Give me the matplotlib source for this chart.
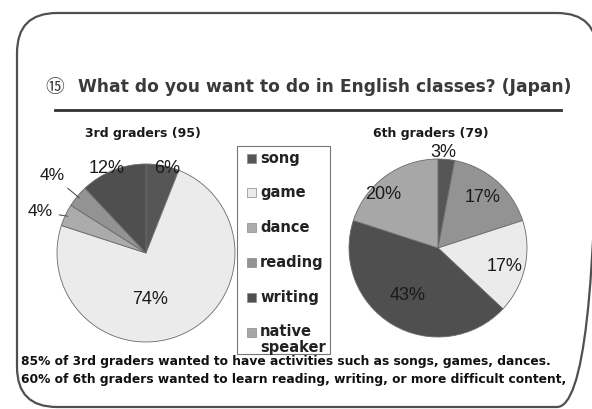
import numpy as np
import matplotlib
matplotlib.use("Agg")
import matplotlib.pyplot as plt
from matplotlib.patches import FancyBboxPatch, Rectangle

# ---------------- data ----------------
categories = ["song", "game", "dance", "reading", "writing", "native\nspeaker"]
cat_colors = ["#565656", "#ebebeb", "#ababab", "#939393", "#4f4f4f", "#a7a7a7"]

pie1_title = "3rd graders (95)"
pie1_cats = ["song", "game", "dance", "reading", "writing"]
pie1_vals = [6, 74, 4, 4, 12]

pie2_title = "6th graders (79)"
pie2_cats = ["song", "reading", "game", "writing", "native\nspeaker"]
pie2_vals = [3, 17, 17, 43, 20]

title = "What do you want to do in English classes? (Japan)"
notes = ["85% of 3rd graders wanted to have activities such as songs, games, dances.",
         "60% of 6th graders wanted to learn reading, writing, or more difficult content,"]

# ---------------- layout (pixels) ----------------
W, H = 592, 409
fig = plt.figure(figsize=(W / 100, H / 100), dpi=100)
bg = fig.add_axes([0, 0, 1, 1])
bg.set_xlim(0, W)
bg.set_ylim(H, 0)
bg.axis("off")

FONT = ["Liberation Sans", "DejaVu Sans"]
BOLD = ["DejaVu Sans"]

# rounded frame
bg.add_patch(FancyBboxPatch((17, 13), 580, 394, boxstyle="round,pad=0,rounding_size=40",
                            fill=False, ec="#505050", lw=1.6, zorder=1))

# title
bg.text(45, 87, "⑮", fontsize=13.5, family=["Noto Sans CJK JP", "DejaVu Sans"],
        color="#3a3a3a", va="center", ha="left")
bg.text(78, 87, title, fontsize=12.35, family=BOLD, weight="bold",
        color="#3a3a3a", va="center", ha="left")
bg.plot([55, 561], [110, 110], color="#333333", lw=2)

# pies
R = 89
def draw_pie(cx, cy, cats, vals, ptitle, tx, ty, label_r, label_dth, leaders):
    span = 1.45
    ax = fig.add_axes([(cx - span * R) / W, 1 - (cy + span * R) / H,
                       2 * span * R / W, 2 * span * R / H])
    cols = [cat_colors[categories.index(c)] for c in cats]
    ax.pie(vals, colors=cols, startangle=90, counterclock=False,
           wedgeprops=dict(edgecolor="#6a6a6a", linewidth=0.6))
    ax.set_xlim(-span, span)
    ax.set_ylim(-span, span)
    ax.set_aspect("equal")
    ax.axis("off")
    total = sum(vals)
    cum = np.cumsum([0] + list(vals))
    for i, v in enumerate(vals):
        mid = (cum[i] + v / 2) / total * 2 * np.pi
        lab = mid + np.deg2rad(label_dth[i])
        r = label_r[i]
        x, y = r * np.sin(lab), r * np.cos(lab)
        if leaders[i]:
            ax.annotate(f"{v}%", xy=(0.97 * np.sin(mid), 0.97 * np.cos(mid)),
                        xytext=(x, y), fontsize=12.5, family=FONT, color="#1a1a1a",
                        ha="center", va="center",
                        arrowprops=dict(arrowstyle="-", color="#555555", lw=0.8,
                                        shrinkA=3, shrinkB=0))
        else:
            ax.text(x, y, f"{v}%", fontsize=13, family=FONT, color="#1a1a1a",
                    ha="center", va="center")
    bg.text(tx, ty, ptitle, fontsize=9, family=BOLD, weight="bold",
            color="#1a1a1a", ha="center", va="center")

draw_pie(146, 253, pie1_cats, pie1_vals, pie1_title, 143, 134,
         [0.98, 0.53, 1.28, 1.37, 1.05], [3, 20, -4, 0, -3],
         [False, False, True, True, False])
draw_pie(438, 248, pie2_cats, pie2_vals, pie2_title, 431, 133,
         [1.07, 0.76, 0.78, 0.63, 0.86], [-2, 0, 3, 2, -10], [False] * 5)

# legend (drawn manually)
bg.add_patch(Rectangle((237, 146), 93, 208, fill=False, ec="#777777", lw=0.8))
for i, (c, col) in enumerate(zip(categories, cat_colors)):
    y = 158 + 34.8 * i
    bg.add_patch(Rectangle((247, y - 4.5), 9, 9, fc=col, ec="#888888", lw=0.5))
    if "\n" in c:
        bg.text(260, y - 8, c, fontsize=10.5, family=BOLD, weight="bold",
                color="#222222", ha="left", va="top", linespacing=1.05)
    else:
        bg.text(260, y, c, fontsize=10.5, family=BOLD, weight="bold",
                color="#222222", ha="left", va="center")

# notes
for i, n in enumerate(notes):
    bg.text(21, 362 + 18 * i, n, fontsize=8.85, family=BOLD, weight="bold",
            color="#111111", ha="left", va="center")

fig.savefig("out.png", dpi=100, facecolor="white")
